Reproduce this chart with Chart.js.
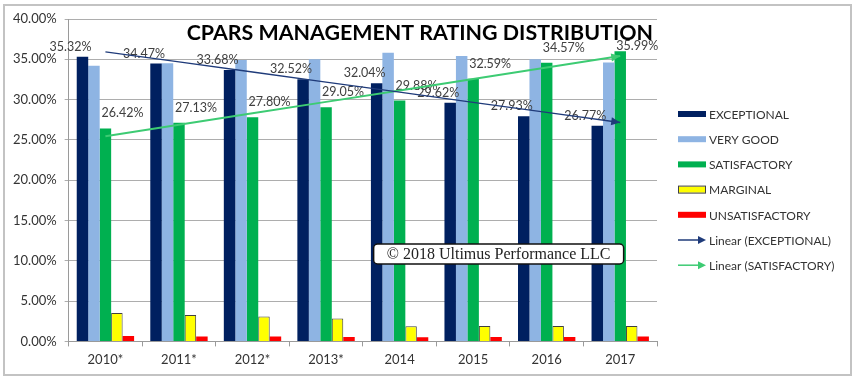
<!DOCTYPE html>
<html>
<head>
<meta charset="utf-8">
<title>CPARS Management Rating Distribution</title>
<script src="https://cdn.jsdelivr.net/npm/chart.js@4.4.1/dist/chart.umd.min.js"></script>
<style>
  html, body { margin: 0; padding: 0; background: #fff; }
</style>
</head>
<body>
<canvas id="ratingChart" width="857" height="380"></canvas>
<script>
// values (percent of ratings per year)
const years = ['2010*', '2011*', '2012*', '2013*', '2014', '2015', '2016', '2017'];
const exceptional = [35.32, 34.47, 33.68, 32.52, 32.04, 29.62, 27.93, 26.77];
const veryGood = [34.2, 34.5, 34.9, 35.0, 35.8, 35.4, 35.0, 34.6];
const satisfactory = [26.42, 27.13, 27.80, 29.05, 29.88, 32.59, 34.57, 35.99];
const marginal = [3.53, 3.28, 3.08, 2.83, 1.87, 1.9, 1.9, 1.9];
const unsatisfactory = [0.66, 0.62, 0.6, 0.55, 0.5, 0.55, 0.55, 0.62];
const yTicks = [0, 5, 10, 15, 20, 25, 30, 35, 40];

const titleText = 'CPARS MANAGEMENT RATING DISTRIBUTION';
const watermarkText = '\u00A9 2018 Ultimus Performance LLC';

// least squares line, same as an Excel "Linear" trendline
function linearTrend(values) {
  const n = values.length;
  const xMean = (n - 1) / 2;
  const yMean = values.reduce((a, b) => a + b, 0) / n;
  let sxy = 0, sxx = 0;
  values.forEach((y, x) => {
    sxy += (x - xMean) * (y - yMean);
    sxx += (x - xMean) * (x - xMean);
  });
  const slope = sxy / sxx;
  return values.map((_, x) => yMean + slope * (x - xMean));
}

function drawArrowHead(ctx, x0, y0, x1, y1, color, len, half) {
  const a = Math.atan2(y1 - y0, x1 - x0);
  ctx.save();
  ctx.fillStyle = color;
  ctx.beginPath();
  ctx.moveTo(x1, y1);
  ctx.lineTo(x1 - len * Math.cos(a) + half * Math.sin(a), y1 - len * Math.sin(a) - half * Math.cos(a));
  ctx.lineTo(x1 - len * Math.cos(a) - half * Math.sin(a), y1 - len * Math.sin(a) + half * Math.cos(a));
  ctx.closePath();
  ctx.fill();
  ctx.restore();
}

const valueLabels = {
  id: 'valueLabels',
  afterDatasetDraw(chart, args) {
    const ds = chart.data.datasets[args.index];
    if (!ds.valueLabel) return;
    const ctx = chart.ctx;
    const top = chart.chartArea.top + 27; // keep clear of the title
    ctx.save();
    ctx.font = '12.5px Lato';
    ctx.fillStyle = '#404040';
    ctx.textAlign = 'center';
    ctx.textBaseline = 'middle';
    args.meta.data.forEach((bar, j) => {
      const y = Math.max(bar.y + ds.valueLabel.dy, top);
      ctx.fillText(ds.data[j].toFixed(2) + '%', bar.x + ds.valueLabel.dx, y);
    });
    ctx.restore();
  }
};

const trendArrows = {
  id: 'trendArrows',
  afterDatasetDraw(chart, args) {
    const ds = chart.data.datasets[args.index];
    if (!ds.arrow) return;
    const pts = args.meta.data;
    const a = pts[pts.length - 2], b = pts[pts.length - 1];
    drawArrowHead(chart.ctx, a.x, a.y, b.x, b.y, ds.borderColor, 9, 4);
  }
};

const decorations = {
  id: 'decorations',
  afterDraw(chart) {
    const ctx = chart.ctx;
    const area = chart.chartArea;
    ctx.save();

    // outer frame
    ctx.strokeStyle = '#c3c3c3';
    ctx.lineWidth = 2;
    ctx.strokeRect(4, 5, 847, 370);

    // title, right aligned inside the plot
    let size = 22;
    ctx.font = 'bold ' + size + 'px Lato';
    size = size * 467 / ctx.measureText(titleText).width;
    ctx.font = 'bold ' + size.toFixed(1) + 'px Lato';
    ctx.fillStyle = '#000';
    ctx.textAlign = 'right';
    ctx.textBaseline = 'middle';
    ctx.fillText(titleText, area.right - 4, area.top + 14);

    // watermark box
    const bx = area.left + 305, by = area.top + 225, bw = 250, bh = 20;
    ctx.beginPath();
    ctx.roundRect(bx, by, bw, bh, 4);
    ctx.fillStyle = '#fff';
    ctx.fill();
    ctx.lineWidth = 1.5;
    ctx.strokeStyle = '#111';
    ctx.stroke();
    ctx.font = '16px "Liberation Serif"';
    ctx.fillStyle = '#222';
    ctx.textAlign = 'center';
    ctx.fillText(watermarkText, bx + bw / 2, by + bh / 2 + 1);

    // legend
    const lx = area.right + 21;
    let ly = area.top + 95;
    ctx.font = '12px Lato';
    ctx.textAlign = 'left';
    chart.data.datasets.forEach(ds => {
      if (ds.type === 'line') {
        ctx.strokeStyle = ds.borderColor;
        ctx.lineWidth = 1.5;
        ctx.beginPath();
        ctx.moveTo(lx, ly);
        ctx.lineTo(lx + 22, ly);
        ctx.stroke();
        drawArrowHead(ctx, lx, ly, lx + 28, ly, ds.borderColor, 8, 4);
      } else {
        ctx.fillStyle = ds.backgroundColor;
        ctx.fillRect(lx, ly - 3, 28, 6);
        if (ds.borderWidth) {
          ctx.strokeStyle = ds.borderColor;
          ctx.lineWidth = 1;
          ctx.strokeRect(lx + 0.5, ly - 3.5, 27, 7);
        }
      }
      ctx.fillStyle = '#333';
      ctx.fillText(ds.label, lx + 31, ly + 1);
      ly += 25.2;
    });
    ctx.restore();
  }
};

const barDefaults = { type: 'bar', borderWidth: 0, order: 1, categoryPercentage: 0.78, barPercentage: 1 };

new Chart(document.getElementById('ratingChart'), {
  data: {
    labels: years,
    datasets: [
      Object.assign({}, barDefaults, { label: 'EXCEPTIONAL', data: exceptional, backgroundColor: '#002060', valueLabel: { dx: -12, dy: -10 } }),
      Object.assign({}, barDefaults, { label: 'VERY GOOD', data: veryGood, backgroundColor: '#8EB4E3' }),
      Object.assign({}, barDefaults, { label: 'SATISFACTORY', data: satisfactory, backgroundColor: '#00B050', valueLabel: { dx: 17, dy: -15 } }),
      Object.assign({}, barDefaults, { label: 'MARGINAL', data: marginal, backgroundColor: '#FFFF00', borderColor: '#404040', borderWidth: 1 }),
      Object.assign({}, barDefaults, { label: 'UNSATISFACTORY', data: unsatisfactory, backgroundColor: '#FF0000' }),
      {
        type: 'line',
        label: 'Linear (EXCEPTIONAL)',
        data: linearTrend(exceptional),
        borderColor: '#1F3B7A',
        borderWidth: 1.3,
        pointRadius: 0,
        order: 0,
        arrow: true
      },
      {
        type: 'line',
        label: 'Linear (SATISFACTORY)',
        data: linearTrend(satisfactory),
        borderColor: '#3DCB73',
        borderWidth: 2,
        pointRadius: 0,
        order: 0,
        arrow: true
      }
    ]
  },
  options: {
    responsive: false,
    animation: false,
    layout: {
      padding: { left: 5, right: 200, top: 19, bottom: 6 }
    },
    plugins: {
      legend: { display: false },
      tooltip: { enabled: false }
    },
    scales: {
      x: {
        grid: {
          offset: true,
          drawOnChartArea: false,
          tickLength: 5,
          color: '#9a9a9a'
        },
        border: { color: '#9a9a9a' },
        ticks: {
          color: '#333',
          font: { family: 'Lato', size: 13 },
          padding: 6
        }
      },
      y: {
        min: 0,
        max: 40,
        afterBuildTicks: axis => {
          axis.ticks = yTicks.map(v => ({ value: v }));
        },
        grid: {
          color: '#adadad',
          tickLength: 4
        },
        border: { color: '#9a9a9a' },
        ticks: {
          color: '#333',
          font: { family: 'Lato', size: 13 },
          padding: 8,
          callback: value => value.toFixed(2) + '%'
        }
      }
    }
  },
  plugins: [valueLabels, trendArrows, decorations]
});
</script>
</body>
</html>
